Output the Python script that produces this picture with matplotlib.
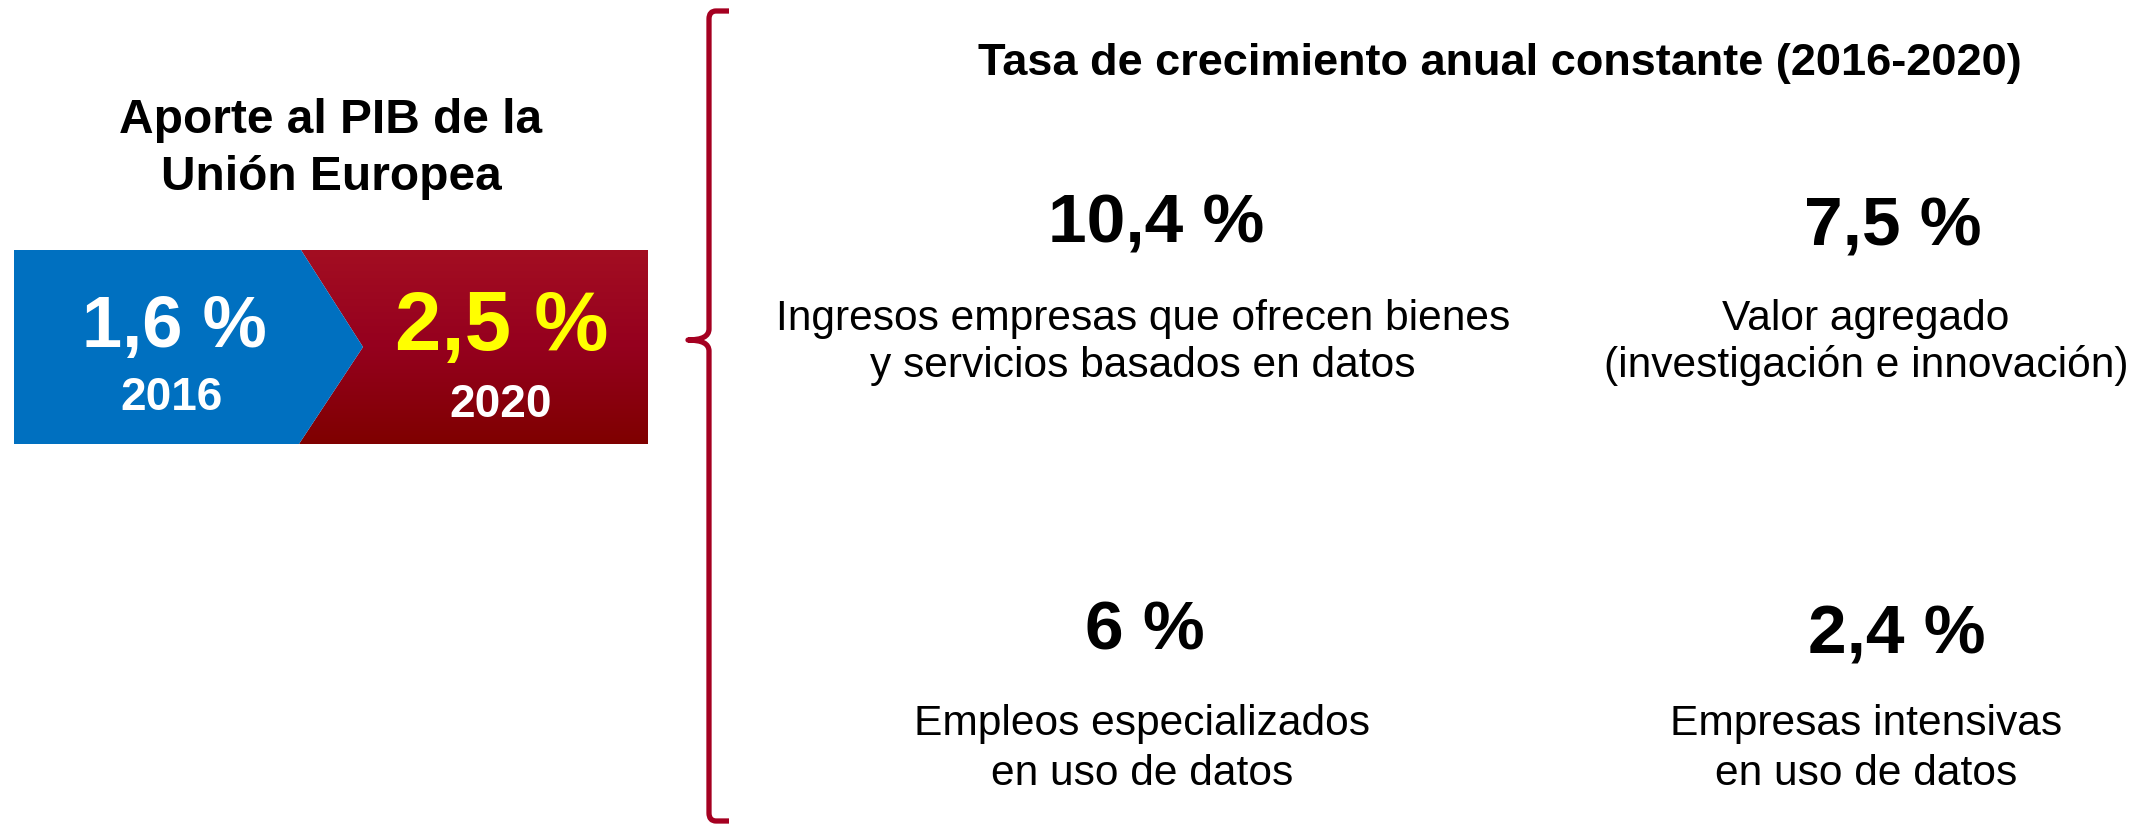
import numpy as np
import matplotlib
matplotlib.use("Agg")
import matplotlib.pyplot as plt
from matplotlib.path import Path
from matplotlib.patches import Polygon, PathPatch
from matplotlib.colors import LinearSegmentedColormap

plt.rcParams['font.family'] = ['Liberation Sans', 'DejaVu Sans']

# data
pib_title = ["Aporte al PIB de la", "Unión Europea"]
pib_share = [1.6, 2.5]
pib_years = [2016, 2020]

growth_title = "Tasa de crecimiento anual constante (2016-2020)"
growth_rates = [10.4, 7.5, 6, 2.4]
growth_labels = [
    ["Ingresos empresas que ofrecen bienes", "y servicios basados en datos"],
    ["Valor agregado", "(investigación e innovación)"],
    ["Empleos especializados", "en uso de datos"],
    ["Empresas intensivas", "en uso de datos"],
]


def pct(v):
    return f"{v:g}".replace(".", ",") + " %"


W, H = 2134, 824
fig = plt.figure(figsize=(W / 100, H / 100), dpi=100)
ax = fig.add_axes([0, 0, 1, 1])
ax.set_xlim(0, W)
ax.set_ylim(H, 0)
ax.axis("off")

BLUE = "#0070C0"
CRIMSON = "#A50021"

# left block title
for line, y in zip(pib_title, [133, 190]):
    ax.text(331, y, line, ha="center", va="baseline", fontsize=34.5,
            fontweight="bold", color="black")

# chevron boxes
top, bot, mid = 250, 444, 347
blue_pts = [(14, top), (301, top), (363, mid), (299, bot), (14, bot)]
red_pts = [(301, top), (648, top), (648, bot), (299, bot), (363, mid)]
ax.add_patch(Polygon(blue_pts, closed=True, facecolor=BLUE, edgecolor="none"))
red_poly = Polygon(red_pts, closed=True, facecolor="none", edgecolor="none")
ax.add_patch(red_poly)
cmap = LinearSegmentedColormap.from_list("red_grad", ["#A30E22", "#95001E", "#7F0000"])
grad = np.linspace(0, 1, 256).reshape(-1, 1)
img = ax.imshow(grad, cmap=cmap, extent=(299, 648, bot, top), origin="upper",
                aspect="auto", interpolation="bilinear")
img.set_clip_path(red_poly)

ax.text(174, 347, pct(pib_share[0]), ha="center", va="baseline", fontsize=52,
        fontweight="bold", color="white")
ax.text(172, 410, str(pib_years[0]), ha="center", va="baseline", fontsize=33,
        fontweight="bold", color="white")
ax.text(502, 350, pct(pib_share[1]), ha="center", va="baseline", fontsize=60,
        fontweight="bold", color="#FFFF00")
ax.text(501, 417, str(pib_years[1]), ha="center", va="baseline", fontsize=33,
        fontweight="bold", color="white")

# curly bracket
verts = [(729, 11), (716, 11), (709, 11), (709, 19), (709, 329), (709, 340), (688, 340),
         (709, 340), (709, 351), (709, 813), (709, 821), (716, 821), (729, 821)]
codes = [Path.MOVETO, Path.LINETO, Path.CURVE3, Path.CURVE3, Path.LINETO, Path.CURVE3,
         Path.CURVE3, Path.CURVE3, Path.CURVE3, Path.LINETO, Path.CURVE3, Path.CURVE3,
         Path.LINETO]
ax.add_patch(PathPatch(Path(verts, codes), facecolor="none", edgecolor=CRIMSON,
                       lw=3.8, capstyle="butt", joinstyle="round"))

# right block
ax.text(1500, 75, growth_title, ha="center", va="baseline", fontsize=32.5,
        fontweight="bold", color="black")

num_x = [1156, 1893, 1145, 1897]
num_y = [242, 245, 650, 653]
lab_x = [1143, 1866, 1142, 1866]
lab_y = [[330, 377], [330, 377], [735, 785], [735, 785]]
for i, (rate, label) in enumerate(zip(growth_rates, growth_labels)):
    ax.text(num_x[i], num_y[i], pct(rate), ha="center", va="baseline", fontsize=50,
            fontweight="bold", color="black")
    for line, y in zip(label, lab_y[i]):
        ax.text(lab_x[i], y, line, ha="center", va="baseline", fontsize=30.6,
                color="black")

fig.savefig("out.png", dpi=100)
